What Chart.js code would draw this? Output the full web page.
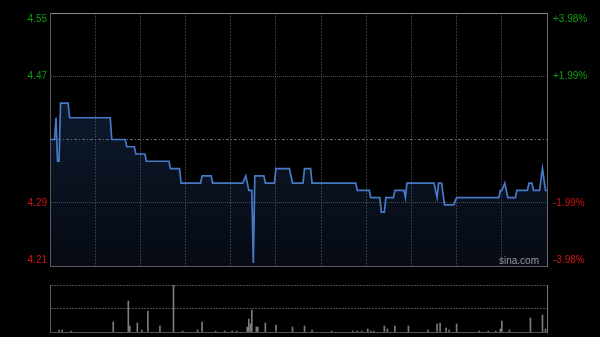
<!DOCTYPE html>
<html lang="zh">
<head>
    <meta charset="UTF-8">
    <title>分时走势</title>
    <script src="https://cdn.jsdelivr.net/npm/chart.js"></script>
    <style>
        html, body { margin: 0; padding: 0; background: #000; }
        .wrap { position: relative; width: 600px; height: 337px; overflow: hidden; background: #000; }
        #priceChart { position: absolute; left: 0; top: 0; }
        #volChart { position: absolute; left: 0; top: 275px; }
        .logo { position: absolute; left: 499px; top: 256px; font: 10px "Liberation Sans", Arial, sans-serif; line-height: 10px; color: #9a9a9a; }
    </style>
</head>
<body>
    <div class="wrap">
        <canvas id="priceChart" width="600" height="275"></canvas>
        <canvas id="volChart" width="600" height="62"></canvas>
        <div class="logo">sina.com</div>
    </div>

    <script>
        // 昨收和刻度
        const prevClose = 4.38;
        const pctTicks = [-3.98, -1.99, 0, 1.99, 3.98];
        const priceLabels = ['4.21', '4.29', '', '4.47', '4.55'];
        const pctLabels = ['-3.98%', '-1.99%', '', '+1.99%', '+3.98%'];

        // 分时价格 (分钟序号, 0 = 9:30, 共 330 分钟)
        const priceMinutes = [0, 3, 4, 5, 6, 7, 12, 13, 40, 41, 50, 51, 56, 57, 63, 64, 79, 80, 86, 87,
            100, 101, 107, 108, 128, 130, 131, 132, 134, 135, 136, 142, 143, 149, 150, 159, 161, 168, 169, 173,
            174, 203, 204, 212, 213, 219, 220, 222, 223, 228, 229, 235, 236, 237, 255, 257, 258, 260, 262, 268,
            270, 298, 299, 300, 302, 304, 309, 310, 317, 318, 320, 321, 325, 327, 329, 330];
        const priceValues = [4.38, 4.38, 4.41, 4.35, 4.35, 4.43, 4.43, 4.41, 4.41, 4.38, 4.38, 4.37, 4.37, 4.36, 4.36, 4.35, 4.35, 4.34, 4.34, 4.32,
            4.32, 4.33, 4.33, 4.32, 4.32, 4.33, 4.32, 4.31, 4.31, 4.21, 4.33, 4.33, 4.32, 4.32, 4.34, 4.34, 4.32, 4.32, 4.34, 4.34,
            4.32, 4.32, 4.31, 4.31, 4.30, 4.30, 4.28, 4.28, 4.30, 4.30, 4.31, 4.31, 4.30, 4.32, 4.32, 4.30, 4.32, 4.32, 4.29, 4.29,
            4.30, 4.30, 4.31, 4.31, 4.32, 4.30, 4.30, 4.31, 4.31, 4.32, 4.32, 4.31, 4.31, 4.34, 4.31, 4.31];

        // 成交量 (千股)
        const volMinutes = [6, 8, 14, 42, 52, 53, 58, 61, 65, 73, 82, 88, 98, 101, 110, 116, 121, 124, 131, 132,
            133, 134, 137, 138, 143, 150, 161, 169, 174, 187, 201, 204, 207, 211, 213, 215, 222, 224, 229, 238,
            251, 257, 259, 263, 265, 270, 285, 291, 296, 299, 300, 305, 319, 327, 329];
        const volValues = [20, 20, 10, 100, 310, 60, 90, 20, 210, 60, 470, 10, 20, 100, 10, 10, 10, 10, 50, 130,
            80, 220, 50, 50, 90, 70, 50, 60, 20, 10, 10, 10, 10, 30, 10, 10, 60, 30, 60, 60,
            20, 80, 90, 40, 20, 80, 10, 10, 10, 30, 110, 20, 140, 170, 30];

        const GREEN = '#129c12';
        const RED = '#d01515';
        const FONT = { family: '"Liberation Sans", Arial, sans-serif', size: 10, lineHeight: 1.15 };

        const tickValues = pctTicks.map(p => +(prevClose * (1 + p / 100)).toFixed(4));
        const yMin = tickValues[0];
        const yMax = tickValues[tickValues.length - 1];
        const last = tickValues.length - 1;

        // 顶部/底部的标签往里挪
        function edgeLabel(text, i) {
            if (i === last) return ['', text];
            if (i === 0) return [text, ''];
            return text;
        }
        function tickColor(ctx) {
            return ctx.tick && ctx.tick.value < prevClose ? RED : GREEN;
        }
        // 固定坐标轴宽度, 不给标签留上下边距
        function fixWidth(w) {
            return s => { s.width = w; s.paddingTop = 0; s.paddingBottom = 0; };
        }

        const pricePoints = priceMinutes.map((m, i) => ({ x: m, y: priceValues[i] }));
        const closePoints = [{ x: 0, y: prevClose }, { x: 330, y: prevClose }];

        new Chart(document.getElementById('priceChart'), {
            type: 'line',
            data: {
                datasets: [{
                    data: pricePoints,
                    borderColor: '#4679c6',
                    borderWidth: 1.7,
                    pointRadius: 0,
                    tension: 0,
                    fill: 'start',
                    order: 0,
                    backgroundColor: (context) => {
                        const area = context.chart.chartArea;
                        if (!area) return 'rgba(50,90,160,0.2)';
                        const g = context.chart.ctx.createLinearGradient(0, area.top, 0, area.bottom);
                        g.addColorStop(0, 'rgba(50,90,160,0.36)');
                        g.addColorStop(1, 'rgba(50,90,160,0.12)');
                        return g;
                    }
                }, {
                    data: closePoints,
                    borderColor: '#6e6e6e',
                    borderWidth: 1,
                    borderDash: [3, 2, 1, 2],
                    pointRadius: 0,
                    fill: false,
                    order: 1
                }]
            },
            options: {
                responsive: false,
                animation: false,
                layout: { padding: 0 },
                plugins: { legend: { display: false }, tooltip: { enabled: false } },
                scales: {
                    x: {
                        type: 'linear', min: 0, max: 330,
                        ticks: { display: false, stepSize: 30 },
                        grid: { color: '#363636', drawTicks: false },
                        border: { color: '#5a5a5a', dash: [2, 1] },
                        afterFit: s => { s.height = 9; }
                    },
                    xTop: {
                        type: 'linear', position: 'top', min: 0, max: 330,
                        ticks: { display: false },
                        grid: { display: false, drawTicks: false },
                        border: { color: '#8a8a8a' },
                        afterFit: s => { s.height = 13; }
                    },
                    y: {
                        min: yMin, max: yMax,
                        afterBuildTicks: s => { s.ticks = tickValues.map(v => ({ value: v })); },
                        ticks: {
                            autoSkip: false, padding: 3, font: FONT, color: tickColor,
                            callback: (v, i) => edgeLabel(priceLabels[i], i)
                        },
                        grid: {
                            drawTicks: false,
                            color: ctx => (ctx.tick && ctx.tick.value === prevClose) ? 'rgba(0,0,0,0)' : '#484848'
                        },
                        border: { color: '#5a5a5a', dash: [1, 1] },
                        afterFit: fixWidth(50)
                    },
                    y2: {
                        position: 'right', min: yMin, max: yMax,
                        afterBuildTicks: s => { s.ticks = tickValues.map(v => ({ value: v })); },
                        ticks: {
                            autoSkip: false, padding: 6, font: FONT, color: tickColor,
                            callback: (v, i) => edgeLabel(pctLabels[i], i)
                        },
                        grid: { display: false, drawTicks: false },
                        border: { color: '#6a6a6a' },
                        afterFit: fixWidth(53)
                    }
                }
            }
        });

        // 成交量图
        const volMax = Math.max(...volValues);
        const volPoints = volMinutes.map((m, i) => ({ x: m, y: volValues[i] }));

        new Chart(document.getElementById('volChart'), {
            type: 'bar',
            data: {
                datasets: [{
                    data: volPoints,
                    backgroundColor: '#7c7c7c',
                    barThickness: 1
                }]
            },
            options: {
                responsive: false,
                animation: false,
                layout: { padding: { top: 10 } },
                plugins: { legend: { display: false }, tooltip: { enabled: false } },
                scales: {
                    x: {
                        type: 'linear', min: 0, max: 330, offset: false,
                        ticks: { display: false },
                        grid: { display: false, offset: false, drawTicks: false },
                        border: { color: '#555' },
                        afterFit: s => { s.height = 5; }
                    },
                    y: {
                        min: 0, max: volMax,
                        afterBuildTicks: s => { s.ticks = [0, volMax / 2, volMax].map(v => ({ value: v })); },
                        ticks: { display: false },
                        grid: { color: '#4a4a4a', drawTicks: false },
                        border: { color: '#5a5a5a', dash: [2, 1] },
                        afterFit: fixWidth(50)
                    },
                    y2: {
                        position: 'right', min: 0, max: volMax,
                        ticks: { display: false },
                        grid: { display: false, drawTicks: false },
                        border: { color: '#7a7a7a' },
                        afterFit: fixWidth(53)
                    }
                }
            }
        });
    </script>
</body>
</html>
